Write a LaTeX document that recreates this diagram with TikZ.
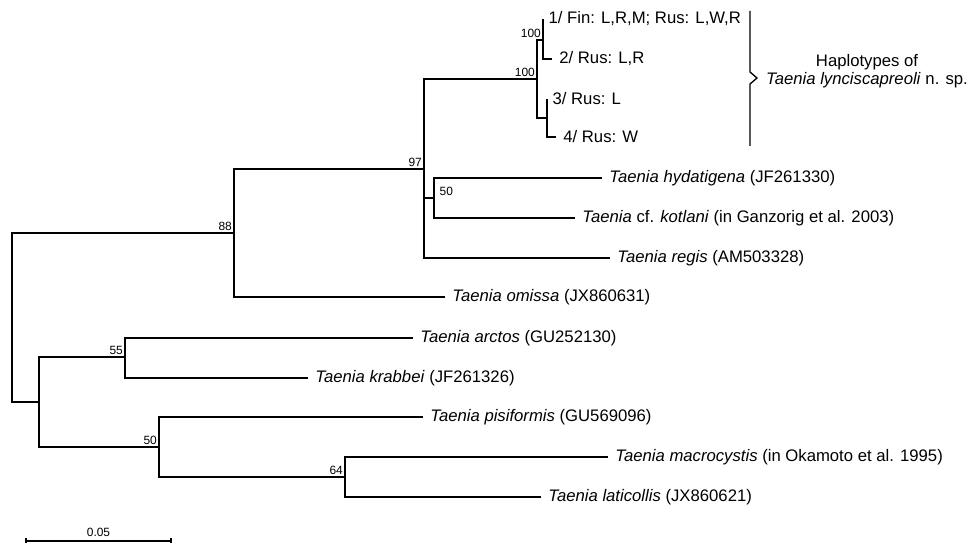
\documentclass[tikz,border=0pt]{standalone}
\usepackage{fontspec}
\setmainfont{Liberation Sans}
\begin{document}
\begin{tikzpicture}[x=0.02cm,y=-0.02cm,
  branch/.style={line width=0.75pt},
  boot/.style={font=\fontsize{6.8}{8}\selectfont, inner sep=1pt, anchor=south east},
  taxon/.style={font=\fontsize{9.5}{11}\selectfont, anchor=west, inner sep=0pt, xshift=4pt}]

  % Fix the frame of the picture (pixel units, y downwards)
  \useasboundingbox (0,0) rectangle (971,544);

  % Define the internal nodes of the tree
  \coordinate (root) at (12,317.5);
  \coordinate (n88) at (234,233);
  \coordinate (n97) at (424,169);
  \coordinate (n100a) at (537,79);
  \coordinate (n100b) at (543,40);
  \coordinate (n34) at (547,118);
  \coordinate (n50a) at (434,198);
  \coordinate (nlow) at (39,402);
  \coordinate (n55) at (125,357);
  \coordinate (n50b) at (159,447);
  \coordinate (n64) at (345,477);

  % Define the ends of the tips
  \coordinate (t1) at (543,19);
  \coordinate (t2) at (552,59);
  \coordinate (t3) at (547,99);
  \coordinate (t4) at (556,137);
  \coordinate (hyd) at (602,178);
  \coordinate (kot) at (575,218);
  \coordinate (reg) at (610,258);
  \coordinate (omi) at (445,297);
  \coordinate (arc) at (413,338);
  \coordinate (kra) at (308,378);
  \coordinate (pis) at (423,417);
  \coordinate (mac) at (608,457);
  \coordinate (lat) at (541,497);

  % Draw the branches
  \draw[branch] (root) |- (n88);
  \draw[branch] (root) |- (nlow);
  \draw[branch] (n88) |- (n97);
  \draw[branch] (n88) |- (omi);
  \draw[branch] (n97) |- (n100a);
  \draw[branch] (n97) |- (n50a);
  \draw[branch] (n97) |- (reg);
  \draw[branch] (n100a) |- (n100b);
  \draw[branch] (n100a) |- (n34);
  \draw[branch] (n100b) |- (t1);
  \draw[branch] (n100b) |- (t2);
  \draw[branch] (n34) |- (t3);
  \draw[branch] (n34) |- (t4);
  \draw[branch] (n50a) |- (hyd);
  \draw[branch] (n50a) |- (kot);
  \draw[branch] (nlow) |- (n55);
  \draw[branch] (nlow) |- (n50b);
  \draw[branch] (n55) |- (arc);
  \draw[branch] (n55) |- (kra);
  \draw[branch] (n50b) |- (pis);
  \draw[branch] (n50b) |- (n64);
  \draw[branch] (n64) |- (mac);
  \draw[branch] (n64) |- (lat);

  % Add the bootstrap values
  \node[boot] (b88) at (n88) {88};
  \node[boot] (b97) at (n97) {97};
  \node[boot] (b100a) at (n100a) {100};
  \node[boot] (b100b) at (n100b) {100};
  \node[boot, anchor=south west, xshift=2pt] (b50a) at (n50a) {50};
  \node[boot] (b55) at (n55) {55};
  \node[boot] (b50b) at (n50b) {50};
  \node[boot] (b64) at (n64) {64};

  % Add the tip labels
  \node[taxon, xshift=-1pt] (l1) at (t1) {1/ Fin: L,R,M; Rus: L,W,R};
  \node[taxon] (l2) at (t2) {2/ Rus: L,R};
  \node[taxon, xshift=-1pt] (l3) at (t3) {3/ Rus: L};
  \node[taxon] (l4) at (t4) {4/ Rus: W};
  \node[taxon] (lhyd) at (hyd) {\textit{Taenia hydatigena} (JF261330)};
  \node[taxon] (lkot) at (kot) {\textit{Taenia} cf. \textit{kotlani} (in Ganzorig et al. 2003)};
  \node[taxon] (lreg) at (reg) {\textit{Taenia regis} (AM503328)};
  \node[taxon] (lomi) at (omi) {\textit{Taenia omissa} (JX860631)};
  \node[taxon] (larc) at (arc) {\textit{Taenia arctos} (GU252130)};
  \node[taxon] (lkra) at (kra) {\textit{Taenia krabbei} (JF261326)};
  \node[taxon] (lpis) at (pis) {\textit{Taenia pisiformis} (GU569096)};
  \node[taxon] (lmac) at (mac) {\textit{Taenia macrocystis} (in Okamoto et al. 1995)};
  \node[taxon] (llat) at (lat) {\textit{Taenia laticollis} (JX860621)};

  % Draw the bracket of the haplotypes
  \coordinate (brtop) at (750,11);
  \coordinate (brtip) at (757,78);
  \coordinate (brbot) at (750,146);
  \draw[branch] (brtop) -- (750,72) -- (brtip) -- (750,84) -- (brbot);
  \node[font=\fontsize{9.5}{10.2}\selectfont, align=center, inner sep=0pt]
    (hap) at (867,71) {Haplotypes of\\\textit{Taenia lynciscapreoli} n. sp.};

  % Draw the scale bar
  \coordinate (sbl) at (26,541);
  \coordinate (sbr) at (171,541);
  \draw[branch] (sbl) -- (sbr);
  \draw[branch] (sbl) ++(0,-3) -- ++(0,5);
  \draw[branch] (sbr) ++(0,-3) -- ++(0,5);
  \node[font=\fontsize{6.8}{8}\selectfont, inner sep=0pt] (sbtext) at (98.5,532) {0.05};

\end{tikzpicture}
\end{document}
